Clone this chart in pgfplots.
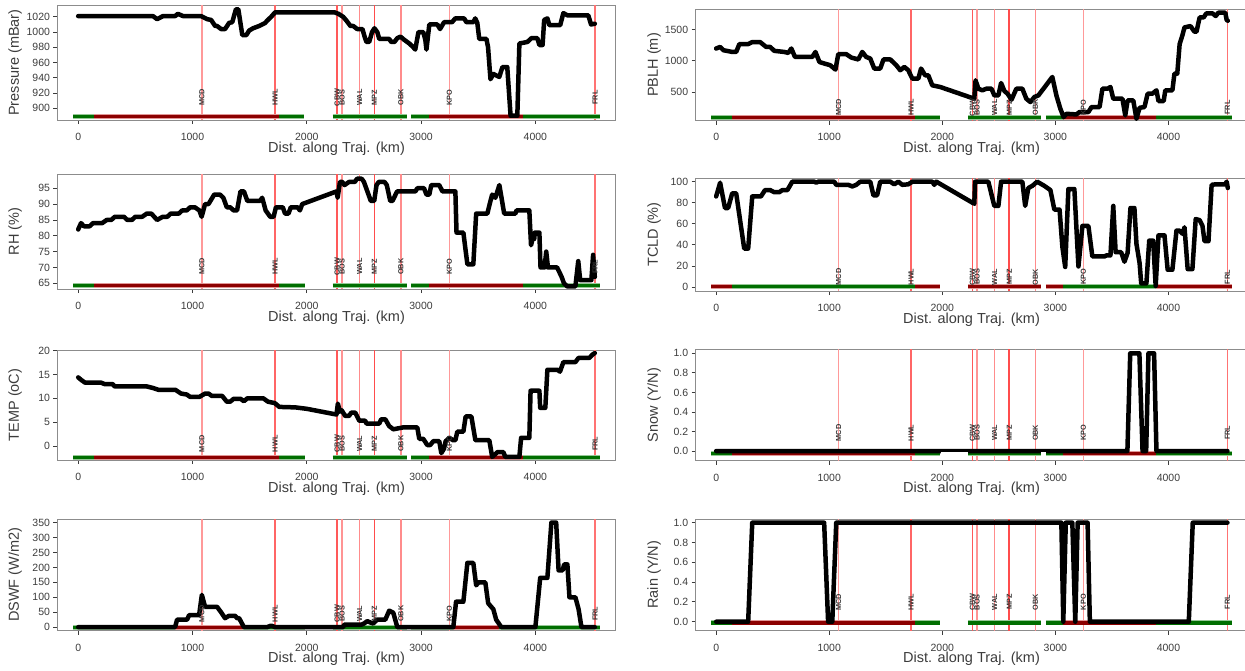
\documentclass[border=0pt]{standalone}
\usepackage{fontspec}
\setmainfont{Liberation Sans}
\usepackage{pgfplots}
\pgfplotsset{compat=1.18}
\definecolor{bgreen}{RGB}{0,110,0}
\definecolor{bred}{RGB}{140,0,0}
\definecolor{bgreenl}{RGB}{150,200,150}
\definecolor{bredl}{RGB}{225,150,150}
\definecolor{axgray}{RGB}{140,140,140}
\definecolor{txtgray}{RGB}{60,60,60}
\pgfplotsset{
  panel/.style={
    scale only axis,
    xmin=-181, xmax=4701,
    xtick={0,1000,2000,3000,4000},
    axis line style={draw=axgray, line width=0.9pt},
    tick style={draw=txtgray, line width=0.8pt},
    major tick length=4pt,
    tick align=outside,
    tick pos=left,
    tick label style={font=\fontsize{10.5}{12}\selectfont, text=txtgray, /pgf/number format/assume math mode=true},
    xticklabel style={yshift=-5.5pt},
    /pgf/number format/set thousands separator={},
    scaled y ticks=false,
    clip=true,
  },
  curve/.style={black, line width=4.5pt, line join=round, line cap=round, mark=none},
}
\tikzset{
  stlabel/.style={rotate=90, font=\fontsize{7.3}{8}\selectfont\bfseries, text=black!80, inner sep=0pt},
  ylab/.style={rotate=90, font=\fontsize{14.5}{16}\selectfont, text=txtgray},
  xlab/.style={font=\fontsize{14.5}{16}\selectfont, text=txtgray},
}
% bar segment: color, x1, x2, y
\newcommand\seg[4]{%
  \addplot[#1l, line width=5pt, forget plot] coordinates {(#2,#4) (#3,#4)};
  \addplot[#1, line width=3.2pt, forget plot] coordinates {(#2,#4) (#3,#4)};}
\newcommand\stdbars[1]{%
  \seg{bgreen}{-45}{137}{#1}\seg{bred}{137}{1760}{#1}\seg{bgreen}{1760}{1980}{#1}%
  \seg{bgreen}{2225}{2875}{#1}%
  \seg{bgreen}{2915}{3070}{#1}\seg{bred}{3070}{3890}{#1}\seg{bgreen}{3890}{4565}{#1}}
\newcommand\invbars[1]{%
  \seg{bred}{-45}{137}{#1}\seg{bgreen}{137}{1760}{#1}\seg{bred}{1760}{1980}{#1}%
  \seg{bred}{2225}{2875}{#1}%
  \seg{bred}{2915}{3070}{#1}\seg{bgreen}{3070}{3890}{#1}\seg{bred}{3890}{4565}{#1}}
\newcommand\stations[1]{%
  \foreach \sx/\sn/\sop in {1082/MCD/40,1723/HWL/60,2266/CBW/65,2308/BOS/42,2462/WAL/45,2592/MPZ/70,2823/OBK/45,3247/KPO/40,4522/FRL/55}{%
    \edef\tmp{\noexpand\draw[color=red!\sop!white, line width=1.6pt] ({axis cs:\sx,0}|-{rel axis cs:0,0}) -- ({axis cs:\sx,0}|-{rel axis cs:0,1});}%
    \tmp
  }}
\newcommand\stlabels[1]{%
  \foreach \sx/\sn in {1082/MCD,1723/HWL,2266/CBW,2308/BOS,2462/WAL,2592/MPZ,2823/OBK,3247/KPO,4522/FRL}{%
    \edef\tmp{\noexpand\node[stlabel] at ({axis cs:\sx,0}|-{rel axis cs:0,#1}) {\sn};}%
    \tmp
  }}
\begin{document}
\begin{tikzpicture}
% ================= LEFT COLUMN =================
% Pressure
\begin{axis}[panel, at={(57.5pt,-120pt)}, anchor=south west, width=558pt, height=115pt,
  ymin=884.4, ymax=1035.6, ytick={900,920,...,1020}]
\stations{0}
\stdbars{889}
\addplot[curve] coordinates {(0,1021) (655,1021) (690,1017) (742,1021) (848,1021) (872,1024) (918,1021) (1075,1021) (1128,1017) (1163,1016) (1198,1008) (1215,1008) (1250,1004) (1285,1004) (1320,1012) (1348,1013) (1380,1030) (1401,1030) (1436,996) (1471,996) (1496,1002) (1530,1005) (1583,1008) (1636,1012) (1653,1015) (1688,1020) (1723,1026) (2242,1026) (2277,1024) (2319,1020) (2347,1015) (2382,1008) (2406,1008) (2441,1004) (2487,1004) (2504,995) (2522,987) (2546,987) (2571,1000) (2592,1005) (2617,1000) (2634,991) (2721,991) (2739,987) (2767,987) (2792,992) (2820,994) (2851,990) (2897,985) (2932,980) (2949,977) (2977,1000) (3019,1000) (3037,990) (3047,977) (3072,1010) (3142,1010) (3166,1004) (3201,1013) (3271,1013) (3299,1018) (3376,1018) (3397,1013) (3457,1013) (3474,1018) (3492,1012) (3509,991) (3572,991) (3586,980) (3607,938) (3632,945) (3684,941) (3712,954) (3754,954) (3783,890) (3842,890) (3860,985) (3930,987) (3965,992) (4017,992) (4035,983) (4063,983) (4077,1016) (4105,1018) (4123,1009) (4217,1009) (4245,1025) (4280,1022) (4463,1022) (4487,1010) (4520,1011)};
\stlabels{0.196}
\end{axis}
% RH
\begin{axis}[panel, at={(57.5pt,-289pt)}, anchor=south west, width=558pt, height=114.7pt,
  ymin=63.2, ymax=99.4, ytick={65,70,...,95}]
\stations{0}
\stdbars{64.3}
\addplot[curve] coordinates {(0,82) (25,84) (50,83) (100,83) (130,84) (210,84) (250,85) (290,85) (320,86) (400,86) (430,85) (470,85) (500,86) (560,86) (600,87) (640,87) (690,85) (740,86) (780,86) (810,87) (880,87) (910,88) (950,88) (980,89) (1020,89) (1060,88) (1080,86) (1110,90) (1140,90) (1190,93) (1240,93) (1270,92) (1300,89) (1330,89) (1360,88) (1390,88) (1420,94) (1450,94) (1480,91) (1590,91) (1610,92) (1640,88) (1680,86) (1710,86) (1730,89) (1790,89) (1810,87) (1840,87) (1860,89) (1920,89) (1940,88) (1960,90) (2260,94) (2270,92) (2290,97) (2310,97) (2330,96) (2370,97) (2420,97) (2440,98) (2480,98) (2500,97) (2540,93) (2560,91) (2590,91) (2610,96) (2630,97) (2680,97) (2700,96) (2730,91) (2750,91) (2790,94) (2950,94) (2967,95) (3026,95) (3047,93) (3072,93) (3089,96) (3159,96) (3187,94) (3300,94) (3310,81) (3370,81) (3405,71) (3457,71) (3482,87) (3580,87) (3600,90) (3622,93) (3650,92) (3685,96) (3727,87) (3825,87) (3835,88) (3947,88) (3962,77) (3975,79) (3990,79) (3995,81) (4035,81) (4045,70) (4080,70) (4095,75) (4110,70) (4190,70) (4230,67) (4250,65) (4280,64) (4350,64) (4375,72) (4392,66) (4490,66) (4505,74) (4520,67)};
\stlabels{0.195}
\end{axis}
% TEMP
\begin{axis}[panel, at={(57.5pt,-460pt)}, anchor=south west, width=558pt, height=110pt,
  ymin=-2.95, ymax=20.15, ytick={0,5,...,20}]
\stations{0}
\stdbars{-2.4}
\addplot[curve] coordinates {(0,14.4) (30,13.8) (60,13.3) (200,13.3) (230,13.0) (300,13.0) (320,12.5) (600,12.5) (650,12.2) (700,11.8) (850,11.8) (900,11.0) (950,10.8) (980,10.3) (1060,10.3) (1110,11.0) (1140,11.0) (1170,10.5) (1260,10.5) (1300,9.3) (1330,9.3) (1360,9.9) (1420,9.9) (1450,9.4) (1480,10.0) (1620,10.0) (1660,9.3) (1720,9.0) (1760,8.2) (1900,8.1) (2000,7.8) (2260,6.6) (2272,8.9) (2290,7.2) (2305,7.5) (2336,6.3) (2370,6.3) (2389,7.0) (2424,7.0) (2459,5.3) (2511,5.3) (2522,4.7) (2634,4.7) (2651,5.6) (2687,5.6) (2720,4.2) (2757,3.5) (2844,3.9) (2967,3.9) (2984,1.5) (3019,1.5) (3054,0.2) (3080,0.2) (3107,1.0) (3159,1.0) (3177,-1.5) (3200,-0.6) (3215,1.0) (3247,1.7) (3280,1.2) (3300,1.2) (3317,3.0) (3370,3.0) (3390,6.2) (3440,6.2) (3475,1.2) (3597,1.2) (3622,-2.3) (3650,-1.7) (3667,-1.3) (3720,-1.3) (3737,-2.3) (3860,-2.3) (3875,1.7) (3947,1.7) (3958,11.6) (4035,11.6) (4042,8.0) (4087,8.0) (4105,16.0) (4193,16.0) (4215,15.6) (4245,17.6) (4350,17.6) (4378,18.5) (4473,18.5) (4500,19.2) (4520,19.5)};
\stlabels{0.148}
\end{axis}
% DSWF
\begin{axis}[panel, at={(57.5pt,-630.7pt)}, anchor=south west, width=558pt, height=111.7pt,
  ymin=-12, ymax=362, ytick={0,50,...,350}]
\stations{0}
\seg{bgreen}{-45}{848}{-1}\seg{bred}{848}{1443}{-1}\seg{bgreen}{1443}{1980}{-1}
\seg{bgreen}{2225}{2875}{-1}\seg{bgreen}{2915}{3282}{-1}\seg{bred}{3282}{3685}{-1}\seg{bgreen}{3685}{4565}{-1}
\addplot[curve] coordinates {(0,0) (848,0) (865,25) (953,25) (970,40) (1058,40) (1082,108) (1110,68) (1215,68) (1250,50) (1285,30) (1320,38) (1373,38) (1390,30) (1408,30) (1450,0) (1653,0) (1688,5) (1723,0) (2319,0) (2326,8) (2476,8) (2500,12) (2529,20) (2560,15) (2581,12) (2616,25) (2687,25) (2721,55) (2757,48) (2792,0) (3282,0) (3306,85) (3370,85) (3405,215) (3457,215) (3482,140) (3503,150) (3562,150) (3587,80) (3632,60) (3657,25) (3702,0) (4000,0) (4042,165) (4105,165) (4140,350) (4182,350) (4203,190) (4238,190) (4252,210) (4280,210) (4298,100) (4350,100) (4378,60) (4403,0) (4520,0)};
\stlabels{0.152}
\end{axis}
% ================= RIGHT COLUMN =================
% PBLH
\begin{axis}[panel, at={(695.7pt,-120.5pt)}, anchor=south west, width=552pt, height=111.2pt,
  ymin=45, ymax=1821, ytick={500,1000,1500}]
\stations{0}
\stdbars{88}
\addplot[curve] coordinates {(0,1195) (35,1220) (64,1168) (142,1140) (177,1140) (205,1265) (283,1265) (319,1297) (389,1297) (442,1220) (478,1220) (513,1158) (602,1140) (637,1125) (665,1195) (697,1060) (850,1060) (878,1140) (913,980) (956,955) (1009,928) (1055,858) (1080,1105) (1150,1105) (1196,1050) (1257,1020) (1292,1140) (1327,1060) (1363,1035) (1398,875) (1451,875) (1480,1020) (1540,1020) (1593,928) (1628,848) (1664,900) (1699,848) (1735,714) (1788,714) (1812,875) (1848,767) (1876,767) (1911,607) (1982,580) (2283,393) (2294,687) (2319,553) (2354,527) (2389,553) (2435,553) (2460,446) (2496,446) (2520,644) (2549,516) (2577,473) (2612,377) (2655,553) (2708,553) (2743,393) (2779,340) (2814,420) (2850,446) (2973,740) (3009,446) (3044,233) (3073,99) (3097,152) (3186,142) (3214,180) (3292,180) (3320,260) (3391,260) (3416,553) (3462,553) (3487,580) (3512,393) (3593,393) (3618,126) (3639,366) (3689,366) (3717,72) (3745,248) (3788,260) (3816,473) (3858,473) (3894,527) (3912,356) (3958,356) (3972,527) (4035,527) (4053,794) (4078,794) (4099,1265) (4124,1409) (4142,1532) (4195,1553) (4230,1463) (4248,1463) (4276,1692) (4311,1692) (4336,1757) (4389,1757) (4418,1714) (4442,1767) (4503,1767) (4515,1650) (4525,1639)};
\stlabels{0.117}
\end{axis}
% TCLD
\begin{axis}[panel, at={(695.7pt,-291pt)}, anchor=south west, width=552pt, height=112.7pt,
  ymin=-3.8, ymax=103.2, ytick={0,20,...,100}]
\stations{0}
\invbars{0.5}
\addplot[curve] coordinates {(0,86) (35,99) (78,75) (106,75) (142,89) (177,89) (248,36.5) (283,36.5) (319,86) (396,86) (432,92) (478,92) (513,90) (559,90) (584,92) (630,92) (673,100) (867,100) (885,99) (903,100) (1044,100) (1062,97) (1168,97) (1204,95.5) (1239,97) (1274,100) (1363,100) (1391,87) (1423,87) (1451,100) (1540,100) (1575,97.5) (1611,100) (1646,97) (1699,97.5) (1735,100) (1912,100) (1929,97) (1947,100) (2283,79) (2290,100) (2407,100) (2460,77) (2496,77) (2520,100) (2708,100) (2733,77) (2761,94) (2796,96) (2839,100) (2903,96) (2956,92) (2991,73.5) (3037,73.5) (3062,38) (3087,19) (3115,93) (3168,93) (3204,19.5) (3239,58) (3292,58) (3327,29) (3434,29) (3451,30) (3487,30) (3512,77) (3533,33) (3582,33) (3611,24) (3639,32.5) (3664,75) (3699,75) (3717,41) (3745,22.6) (3759,3.4) (3805,3.4) (3830,44) (3865,44) (3887,1) (3912,49) (3965,49) (3993,16.4) (4035,16.4) (4071,53.5) (4099,53.5) (4124,50.5) (4142,56.7) (4170,17) (4212,17) (4241,64.5) (4276,63.5) (4301,58) (4319,43.5) (4354,43.5) (4382,97) (4418,97.5) (4503,97.5) (4515,100) (4525,94)};
\stlabels{0.125}
\end{axis}
% Snow
\begin{axis}[panel, at={(695.7pt,-460.7pt)}, anchor=south west, width=552pt, height=111.4pt,
  ymin=-0.099, ymax=1.041, ytick={0,0.2,...,1.0},
  yticklabel style={/pgf/number format/.cd, fixed, fixed zerofill, precision=1}]
\stations{0}
\stdbars{-0.024}
\addplot[curve] coordinates {(0,0) (3637,0) (3662,1) (3743,1) (3771,0) (3803,0) (3823,1) (3873,1) (3894,0) (4522,0)};
\addplot[white, line width=3.2pt, forget plot] coordinates {(1985,-0.024) (2225,-0.024)};
\addplot[white, line width=3.2pt, forget plot] coordinates {(2875,-0.024) (2915,-0.024)};
\stlabels{0.25}
\end{axis}
% Rain
\begin{axis}[panel, at={(695.7pt,-630.7pt)}, anchor=south west, width=552pt, height=111.7pt,
  ymin=-0.091, ymax=1.037, ytick={0,0.2,...,1.0},
  yticklabel style={/pgf/number format/.cd, fixed, fixed zerofill, precision=1}]
\stations{0}
\stdbars{-0.013}
\addplot[curve] coordinates {(0,0) (283,0) (319,1) (955,1) (990,0) (1027,0) (1062,1) (3053,1) (3070,0) (3092,1) (3150,1) (3176,0) (3197,1) (3285,1) (3305,0) (4180,0) (4215,1) (4522,1)};
\stlabels{0.256}
\end{axis}
% ================= AXIS TITLES =================
\node[ylab] at (15pt,-62.5pt) {Pressure (mBar)};
\node[ylab] at (15pt,-231.6pt) {RH (\%)};
\node[ylab] at (15pt,-405pt) {TEMP (oC)};
\node[ylab] at (15pt,-574.8pt) {DSWF (W/m2)};
\node[ylab] at (654pt,-64.9pt) {PBLH (m)};
\node[ylab] at (654pt,-234.6pt) {TCLD (\%)};
\node[ylab] at (654pt,-405pt) {Snow (Y/N)};
\node[ylab] at (654pt,-574.8pt) {Rain (Y/N)};
\node[xlab] at (336.5pt,-148.3pt) {Dist. along Traj. (km)};
\node[xlab] at (336.5pt,-317.3pt) {Dist. along Traj. (km)};
\node[xlab] at (336.5pt,-488.3pt) {Dist. along Traj. (km)};
\node[xlab] at (336.5pt,-659pt) {Dist. along Traj. (km)};
\node[xlab] at (971.5pt,-148.8pt) {Dist. along Traj. (km)};
\node[xlab] at (971.5pt,-319.3pt) {Dist. along Traj. (km)};
\node[xlab] at (971.5pt,-489pt) {Dist. along Traj. (km)};
\node[xlab] at (971.5pt,-659pt) {Dist. along Traj. (km)};
\pgfresetboundingbox
\path[use as bounding box] (0pt,0pt) rectangle (1245pt,-670pt);
\end{tikzpicture}
\end{document}
